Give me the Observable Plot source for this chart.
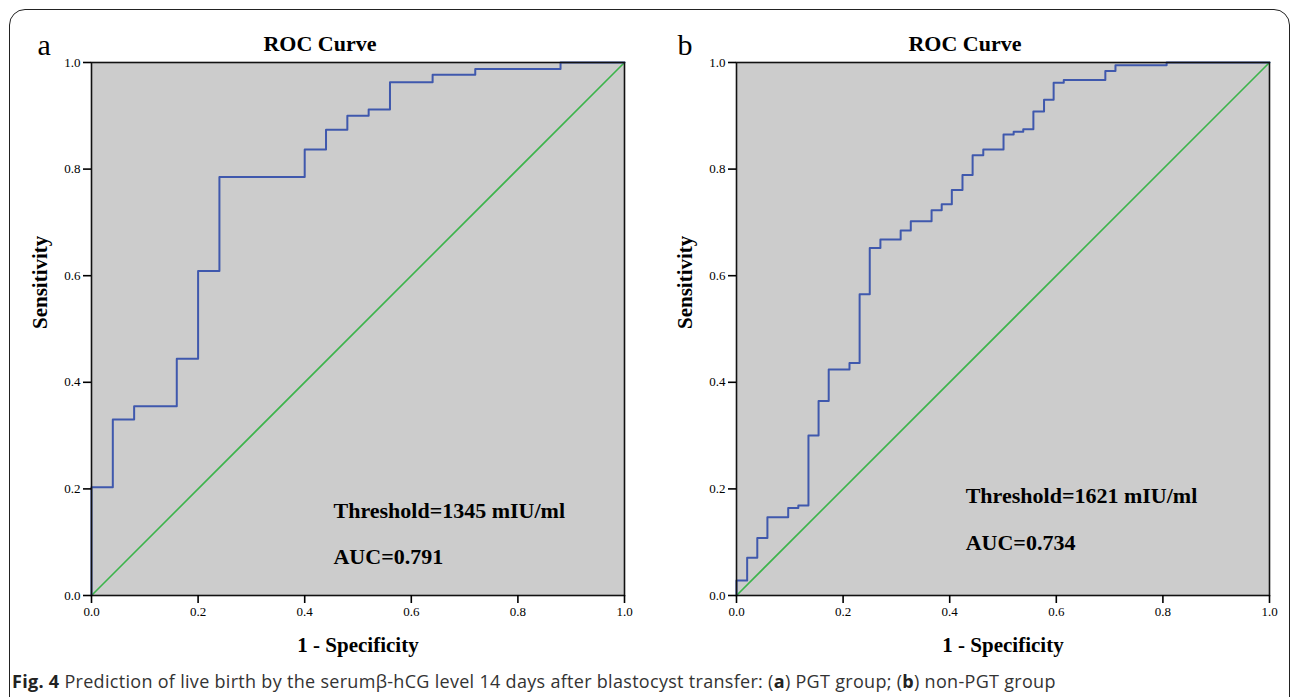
<!DOCTYPE html>
<html>
<head>
<meta charset="utf-8">
<script src="https://cdn.jsdelivr.net/npm/d3@7"></script>
<script src="https://cdn.jsdelivr.net/npm/@observablehq/plot@0.6"></script>
<style>
  html, body { margin: 0; padding: 0; background: #fff; }
  #page { position: relative; width: 1292px; height: 697px; overflow: hidden; }
  #frame { position: absolute; left: 9px; top: 9px; width: 1281px; height: 720px;
           border: 1.6px solid #222; border-radius: 16px; box-sizing: border-box; }
  .panel { position: absolute; top: 0; }
  #pa { left: 0; }
  #pb { left: 645px; }
  #caption { position: absolute; left: 12px; top: 669px; font-family: "Open Sans", Lato, sans-serif;
             font-size: 18px; color: #333; white-space: nowrap; letter-spacing: 0.3px; }
  #caption b { color: #222; }
</style>
</head>
<body>
<div id="page">
  <div id="frame"></div>
  <div id="pa" class="panel"></div>
  <div id="pb" class="panel"></div>
  <div id="caption"><b>Fig. 4</b> Prediction of live birth by the serumβ-hCG level 14 days after blastocyst transfer: (<b>a</b>) PGT group; (<b>b</b>) non-PGT group</div>
</div>
<script>
// Panel a: ROC curve corners (1 - Specificity, Sensitivity)
const fprA = [0, 0, 0.04, 0.08, 0.16, 0.20, 0.24, 0.40, 0.44, 0.48, 0.52, 0.56, 0.64, 0.72, 0.88, 1.0];
const tprA = [0, 0.203, 0.330, 0.355, 0.444, 0.609, 0.785, 0.837, 0.874, 0.900, 0.912, 0.963, 0.977, 0.988, 1.0, 1.0];
// Panel b
const fprB = [0, 0, 0.020, 0.039, 0.058, 0.097, 0.116, 0.135, 0.154, 0.173, 0.212, 0.231, 0.250, 0.270, 0.308, 0.327, 0.366, 0.385, 0.404, 0.424, 0.443, 0.463, 0.501, 0.520, 0.538, 0.557, 0.577, 0.595, 0.614, 0.692, 0.711, 0.807, 1.0];
const tprB = [0, 0.028, 0.071, 0.108, 0.147, 0.164, 0.169, 0.300, 0.365, 0.424, 0.436, 0.565, 0.652, 0.668, 0.685, 0.702, 0.723, 0.734, 0.761, 0.789, 0.826, 0.837, 0.865, 0.870, 0.875, 0.908, 0.930, 0.962, 0.967, 0.984, 0.995, 1.0, 1.0];
// reference diagonal
const diag = [0, 1];
const ticks = [0, 0.2, 0.4, 0.6, 0.8, 1.0];
const title = "ROC Curve";
const xLabel = "1 - Specificity";
const yLabel = "Sensitivity";
const panels = [
  {id: "#pa", letter: "a", letterDx: -54, fpr: fprA, tpr: tprA,
   notes: [{x: 0.454, y: 0.158, t: "Threshold=1345 mIU/ml"}, {x: 0.454, y: 0.072, t: "AUC=0.791"}]},
  {id: "#pb", letter: "b", letterDx: -59, fpr: fprB, tpr: tprB,
   notes: [{x: 0.430, y: 0.187, t: "Threshold=1621 mIU/ml"}, {x: 0.430, y: 0.098, t: "AUC=0.734"}]}
];

for (const p of panels) {
  const curve = p.fpr.map((x, i) => ({x, y: p.tpr[i]}));
  const ref = diag.map(v => ({x: v, y: v}));
  const chart = Plot.plot({
    width: 645,
    height: 660,
    marginLeft: 91,
    marginRight: 21,
    marginTop: 62,
    marginBottom: 65,
    style: {fontFamily: "'Liberation Serif', 'DejaVu Serif', serif", fontSize: "13px", color: "#000", background: "transparent", overflow: "visible"},
    x: {domain: [0, 1]},
    y: {domain: [0, 1]},
    marks: [
      Plot.frame({fill: "#cccccc"}),
      Plot.line(ref, {x: "x", y: "y", stroke: "#3cb44b", strokeWidth: 1.6}),
      Plot.line(curve, {x: "x", y: "y", curve: "step-after", stroke: "#3f58ad", strokeWidth: 2}),
      Plot.frame({stroke: "#111", strokeWidth: 1.6}),
      Plot.axisX({ticks, tickFormat: d3.format(".1f"), tickSize: 8, tickPadding: 3, label: null, fontSize: 13, strokeWidth: 1.6, stroke: "#000", fill: "#000"}),
      Plot.axisY({ticks, tickFormat: d3.format(".1f"), tickSize: 8, tickPadding: 3, label: null, fontSize: 13, strokeWidth: 1.6, stroke: "#000", fill: "#000"}),
      Plot.text(p.notes, {x: "x", y: "y", text: "t", textAnchor: "start", lineAnchor: "middle", fontSize: 22, fontWeight: "bold", fill: "#000"}),
      Plot.text([title], {frameAnchor: "top", lineAnchor: "middle", dy: -19, dx: -38, fontSize: 22, fontWeight: "bold", fill: "#000"}),
      Plot.text([xLabel], {frameAnchor: "bottom", lineAnchor: "middle", dy: 50, fontSize: 21, fontWeight: "bold", fill: "#000"}),
      Plot.text([yLabel], {frameAnchor: "left", lineAnchor: "middle", dx: -51, rotate: -90, fontSize: 21, fontWeight: "bold", fill: "#000"}),
      Plot.text([p.letter], {frameAnchor: "top-left", textAnchor: "start", lineAnchor: "middle", dx: p.letterDx, dy: -17, fontSize: 30, fill: "#000"})
    ]
  });
  document.querySelector(p.id).appendChild(chart);
}
</script>
</body>
</html>
